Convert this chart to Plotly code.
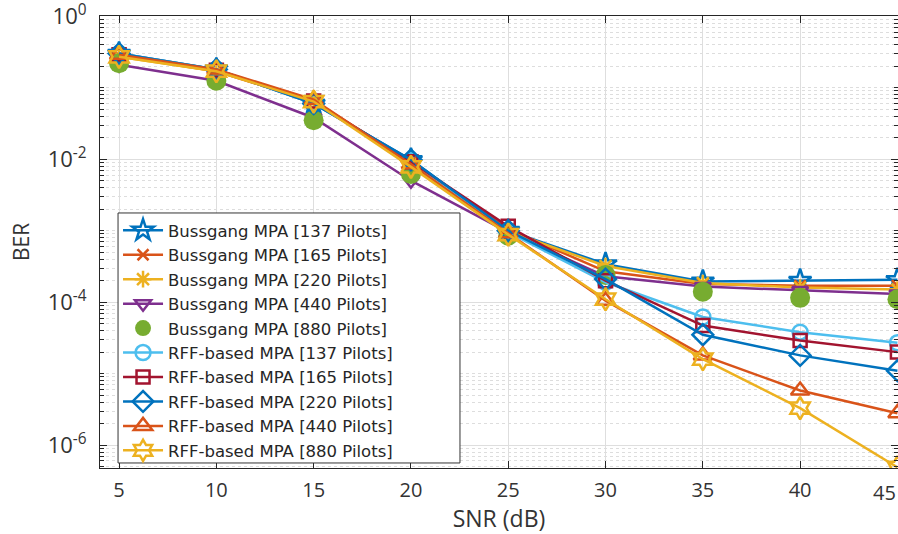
import plotly.graph_objects as go
import numpy as np

snr = [5, 10, 15, 20, 25, 30, 35, 40, 45]
x_ticks = [5, 10, 15, 20, 25, 30, 35, 40, 45]
x_ticklabels = ["5", "10", "15", "20", "25", "30", "35", "40", "45"]

bus_137 = [0.30, 0.18, 0.060, 0.0098, 0.00100, 3.4e-4, 1.95e-4, 2.0e-4, 2.05e-4]
bus_165 = [0.28, 0.17, 0.064, 0.0090, 0.00105, 2.7e-4, 1.8e-4, 1.7e-4, 1.7e-4]
bus_220 = [0.27, 0.17, 0.066, 0.0085, 0.00098, 3.2e-4, 1.85e-4, 1.6e-4, 1.5e-4]
bus_440 = [0.21, 0.125, 0.038, 0.0050, 0.00095, 2.3e-4, 1.65e-4, 1.45e-4, 1.3e-4]
bus_880 = [0.22, 0.125, 0.035, 0.0062, 0.00085, 2.4e-4, 1.4e-4, 1.15e-4, 1.1e-4]
rff_137 = [0.30, 0.18, 0.062, 0.0095, 0.00095, 1.9e-4, 6.2e-5, 3.8e-5, 2.7e-5]
rff_165 = [0.29, 0.175, 0.065, 0.0092, 0.00115, 2.0e-4, 4.7e-5, 2.9e-5, 2.0e-5]
rff_220 = [0.30, 0.18, 0.060, 0.0098, 0.00100, 2.1e-4, 3.5e-5, 1.8e-5, 1.1e-5]
rff_440 = [0.29, 0.18, 0.068, 0.0085, 0.00092, 1.05e-4, 1.8e-5, 5.8e-6, 2.8e-6]
rff_880 = [0.27, 0.17, 0.064, 0.0078, 0.00088, 1.1e-4, 1.6e-5, 3.3e-6, 4.9e-7]

names = [
    "Bussgang MPA [137 Pilots]", "Bussgang MPA [165 Pilots]", "Bussgang MPA [220 Pilots]",
    "Bussgang MPA [440 Pilots]", "Bussgang MPA [880 Pilots]",
    "RFF-based MPA [137 Pilots]", "RFF-based MPA [165 Pilots]", "RFF-based MPA [220 Pilots]",
    "RFF-based MPA [440 Pilots]", "RFF-based MPA [880 Pilots]",
]
series = [bus_137, bus_165, bus_220, bus_440, bus_880, rff_137, rff_165, rff_220, rff_440, rff_880]
colors = ["#0072BD", "#D95319", "#EDB120", "#7E2F8E", "#77AC30",
          "#4DBEEE", "#A2142F", "#0072BD", "#D95319", "#EDB120"]
symbols = ["star-open", "x-thin-open", "asterisk-open", "triangle-down-open", "circle",
           "circle-open", "square-open", "diamond-open", "triangle-up-open", "hexagram-open"]
sizes = [17, 11, 14, 14, 20, 15, 13, 16, 16, 17]

fig = go.Figure()
for i, (nm, ys, c, sym, sz) in enumerate(zip(names, series, colors, symbols, sizes)):
    if sym == "circle":
        fig.add_trace(go.Scatter(
            x=snr, y=ys, name=nm, mode="markers",
            marker=dict(symbol=sym, size=sz, color=c, line=dict(width=0)),
        ))
    else:
        fig.add_trace(go.Scatter(
            x=snr, y=ys, name=nm, mode="lines+markers",
            line=dict(color=c, width=2.5),
            marker=dict(symbol=sym, size=sz, color=c, line=dict(color=c, width=2.5)),
        ))

axis_col = "#262626"
major_grid = "#dedede"
minor_grid = "#dddddd"

minor_y = []
for k in range(-7, 0):
    for m in range(1, 10):
        v = m * 10.0 ** k
        if m == 1 and k % 2 == 0:
            continue
        minor_y.append(v)

# legend frame (drawn behind the legend, above the data)
fig.add_shape(type="rect", xref="paper", yref="paper",
              x0=0.0226, x1=0.4511, y0=0.0111, y1=0.5642,
              fillcolor="white", line=dict(color="#333333", width=1), layer="above")

# last x tick label is drawn as an annotation, nudged left so it stays inside the page
fig.add_annotation(x=x_ticks[-1], y=0, xref="x", yref="paper", yanchor="top",
                   text=x_ticklabels[-1], showarrow=False, xshift=-13, yshift=-9,
                   font=dict(size=20, color="#333333", family="Open Sans"))

fig.update_layout(
    width=898, height=534,
    margin=dict(l=100, r=0, t=16, b=66, autoexpand=False),
    paper_bgcolor="white", plot_bgcolor="white",
    font=dict(family="Open Sans", color="#333333", size=19),
    showlegend=True,
    legend=dict(
        x=0.0226, y=0.564, xanchor="left", yanchor="top",
        bgcolor="rgba(0,0,0,0)", borderwidth=0,
        font=dict(family="DejaVu Sans", size=16.5, color="#262626"),
        itemwidth=40,
    ),
    xaxis=dict(
        range=[4.02, 45.03], tickvals=x_ticks, ticktext=x_ticklabels[:-1] + [""],
        showline=True, linecolor=axis_col, linewidth=1, mirror="ticks",
        ticks="inside", ticklen=7, tickcolor=axis_col,
        showgrid=True, gridcolor=major_grid, gridwidth=1,
        zeroline=False, ticklabelstandoff=4, ticklabeloverflow="allow",
        automargin=False,
        tickfont=dict(size=20, color="#333333"),
        title=dict(text="SNR (dB)", font=dict(size=23, color="#333333"), standoff=8),
    ),
    yaxis=dict(
        type="log", range=[-6.32, 0.003],
        tickvals=[1e-6, 1e-4, 1e-2, 1],
        ticktext=["10<sup>-6</sup>", "10<sup>-4</sup>", "10<sup>-2</sup>", "10<sup>0</sup>"],
        showline=True, linecolor=axis_col, linewidth=1, mirror="ticks",
        ticks="inside", ticklen=7, tickcolor=axis_col,
        showgrid=True, gridcolor=major_grid, gridwidth=1,
        zeroline=False, ticklabelstandoff=8, ticklabeloverflow="allow",
        tickfont=dict(size=22, color="#333333"),
        minor=dict(tickvals=minor_y, ticks="inside", ticklen=4, tickcolor=axis_col,
                   showgrid=True, gridcolor=minor_grid, griddash="dot", gridwidth=1),
        title=dict(text="BER", font=dict(size=21, color="#333333"), standoff=12),
    ),
)

fig.write_html("out.html")
